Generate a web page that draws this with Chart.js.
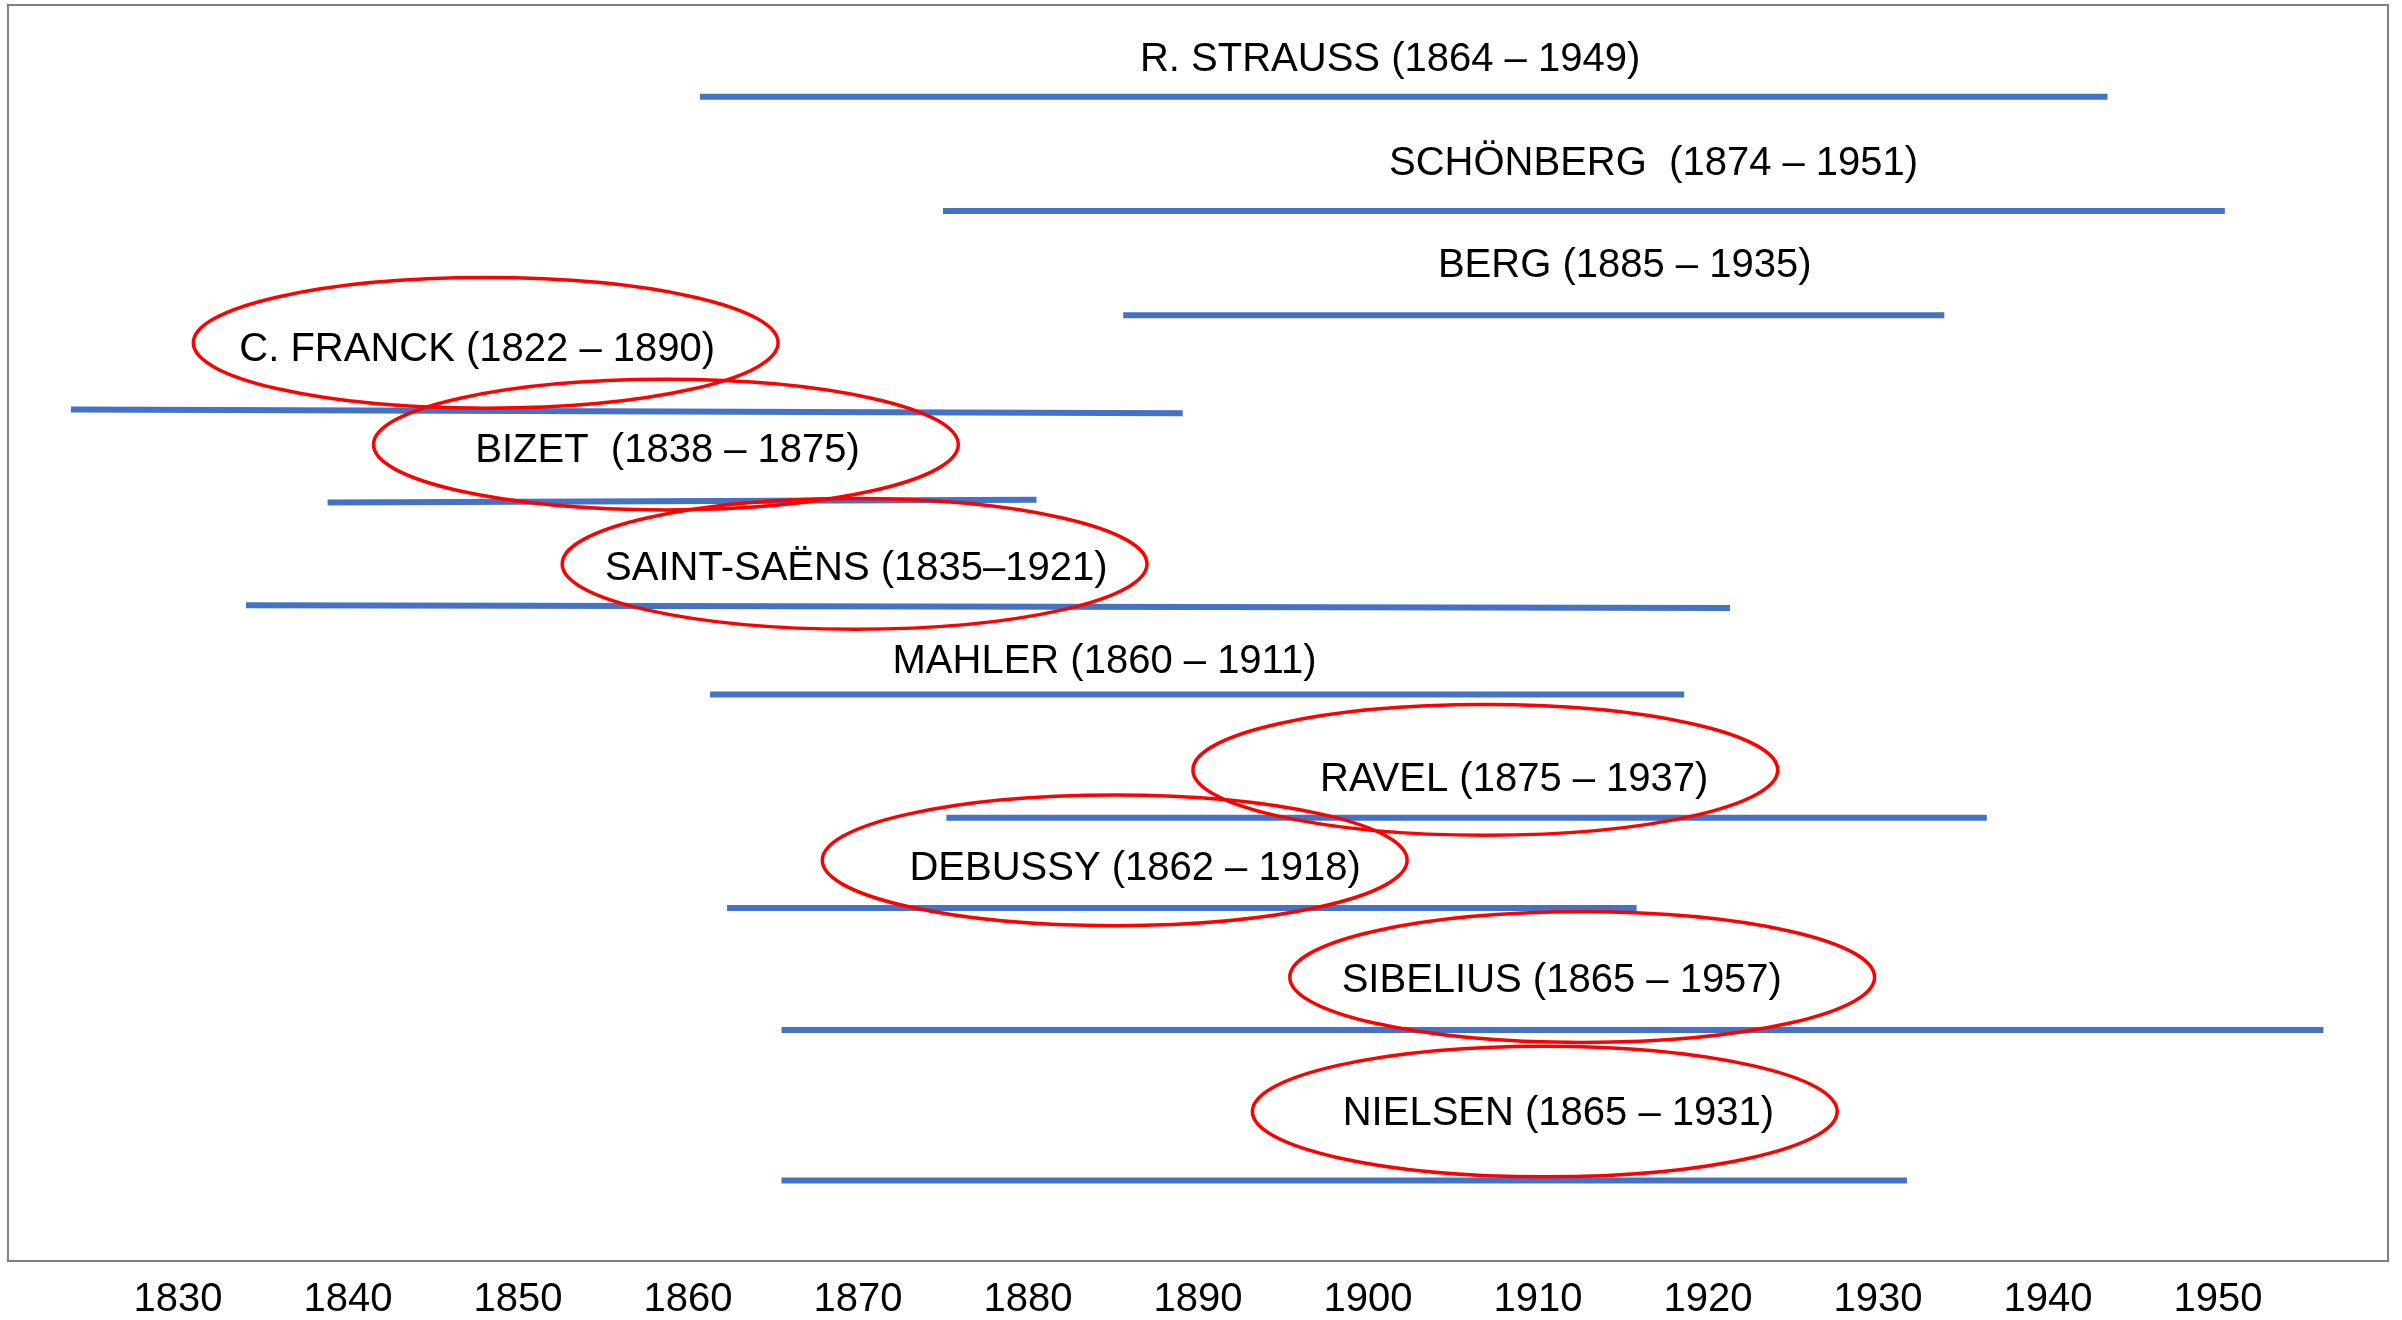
<!DOCTYPE html>
<html>
<head>
<meta charset="utf-8">
<script src="https://cdn.jsdelivr.net/npm/chart.js@4.4.0/dist/chart.umd.min.js"></script>
<style>
  html, body { margin: 0; padding: 0; background: #fff; }
  #wrap { width: 2402px; height: 1320px; }
</style>
</head>
<body>
<div id="wrap"><canvas id="timeline"></canvas></div>
<script>
// composer captions, as written in the picture
const captions = [
  "R. STRAUSS (1864 \u2013 1949)",
  "SCH\u00d6NBERG  (1874 \u2013 1951)",
  "BERG (1885 \u2013 1935)",
  "C. FRANCK (1822 \u2013 1890)",
  "BIZET  (1838 \u2013 1875)",
  "SAINT-SA\u00cbNS (1835\u20131921)",
  "MAHLER (1860 \u2013 1911)",
  "RAVEL (1875 \u2013 1937)",
  "DEBUSSY (1862 \u2013 1918)",
  "SIBELIUS (1865 \u2013 1957)",
  "NIELSEN (1865 \u2013 1931)"
];

// where each life line starts / ends on the year axis
const lineFrom = [1860.7, 1875.0, 1885.6, 1823.7, 1838.8, 1834.0, 1861.3, 1875.2, 1862.3, 1865.5, 1865.5];
const lineTo   = [1943.5, 1950.4, 1933.9, 1889.1, 1880.5, 1921.3, 1918.6, 1936.4, 1915.8, 1956.2, 1931.7];

// row of each line (0 = top of frame, 100 = bottom), left end and right end
const rowFrom = [7.3, 16.4, 24.7, 32.2, 39.6, 47.8, 54.9, 64.7, 71.9, 81.6, 93.6];
const rowTo   = [7.3, 16.4, 24.7, 32.5, 39.4, 48.0, 54.9, 64.7, 71.9, 81.6, 93.6];

// caption anchor (centre of text)
const captionYear = [1901.3, 1916.8, 1915.1, 1847.6, 1858.8, 1869.9, 1884.5, 1908.6, 1886.3, 1911.4, 1911.2];
const captionRow  = [4.1, 12.4, 20.5, 27.2, 35.2, 44.6, 52.0, 61.4, 68.5, 77.4, 88.0];

// red rings round some captions (null = not circled)
const ringYear = [null, null, null, 1848.1, 1858.7, 1869.8, null, 1906.9, 1885.1, 1912.6, 1910.4];
const ringRow  = [null, null, null, 26.9, 35.0, 44.5, null, 60.9, 68.1, 77.4, 88.1];

const tickYears = [1830, 1840, 1850, 1860, 1870, 1880, 1890, 1900, 1910, 1920, 1930, 1940, 1950];

const FONT = "'Liberation Sans', Arial, sans-serif";
const FONT_SIZE = 40;

const datasets = captions.map((name, i) => ({
  label: name,
  data: [
    { x: lineFrom[i], y: rowFrom[i] },
    { x: lineTo[i], y: rowTo[i] }
  ],
  borderColor: "#4472C4",
  borderWidth: 6,
  borderCapStyle: "butt",
  pointRadius: 0,
  fill: false
}));

// gray frame round the plot area
const framePlugin = {
  id: "frame",
  beforeDraw(chart) {
    const { ctx, chartArea: a } = chart;
    ctx.save();
    ctx.fillStyle = "#fff";
    ctx.fillRect(0, 0, chart.width, chart.height);
    ctx.strokeStyle = "#7f7f7f";
    ctx.lineWidth = 2;
    ctx.strokeRect(a.left, a.top, a.right - a.left, a.bottom - a.top);
    ctx.restore();
  }
};

// red ellipses and the captions
const captionPlugin = {
  id: "captions",
  afterDatasetsDraw(chart) {
    const { ctx, scales: { x, y } } = chart;
    ctx.save();
    ctx.strokeStyle = "#FF0000";
    ctx.lineWidth = 3.5;
    ringYear.forEach((yr, i) => {
      if (yr === null) return;
      const cx = x.getPixelForValue(yr);
      const cy = y.getPixelForValue(ringRow[i]);
      const rx = Math.abs(x.getPixelForValue(yr + 17.2) - cx);
      const ry = Math.abs(y.getPixelForValue(ringRow[i] + 5.2) - cy);
      ctx.beginPath();
      ctx.ellipse(cx, cy, rx, ry, 0, 0, Math.PI * 2);
      ctx.stroke();
    });
    ctx.fillStyle = "#000";
    ctx.font = FONT_SIZE + "px " + FONT;
    ctx.textAlign = "center";
    ctx.textBaseline = "alphabetic";
    captions.forEach((txt, i) => {
      const px = x.getPixelForValue(captionYear[i]);
      const py = y.getPixelForValue(captionRow[i]) + FONT_SIZE * 0.36;
      ctx.fillText(txt, px, py);
    });
    ctx.restore();
  }
};

new Chart(document.getElementById("timeline"), {
  type: "line",
  data: { datasets },
  options: {
    responsive: true,
    maintainAspectRatio: false,
    animation: false,
    layout: { padding: { left: 8, right: 14, top: 5, bottom: 0 } },
    plugins: {
      legend: { display: false },
      tooltip: { enabled: false }
    },
    scales: {
      x: {
        type: "linear",
        min: 1820,
        max: 1960,
        grid: { display: false, drawTicks: false },
        border: { display: false },
        afterBuildTicks(scale) {
          scale.ticks = tickYears.map((v) => ({ value: v }));
        },
        afterFit(scale) {
          scale.height = 59;
        },
        ticks: {
          autoSkip: false,
          maxRotation: 0,
          padding: 19,
          color: "#000",
          font: { family: FONT, size: FONT_SIZE, lineHeight: 1 },
          callback: (v) => String(v)
        }
      },
      y: {
        type: "linear",
        min: 0,
        max: 100,
        reverse: true,
        display: false
      }
    }
  },
  plugins: [framePlugin, captionPlugin]
});
</script>
</body>
</html>
